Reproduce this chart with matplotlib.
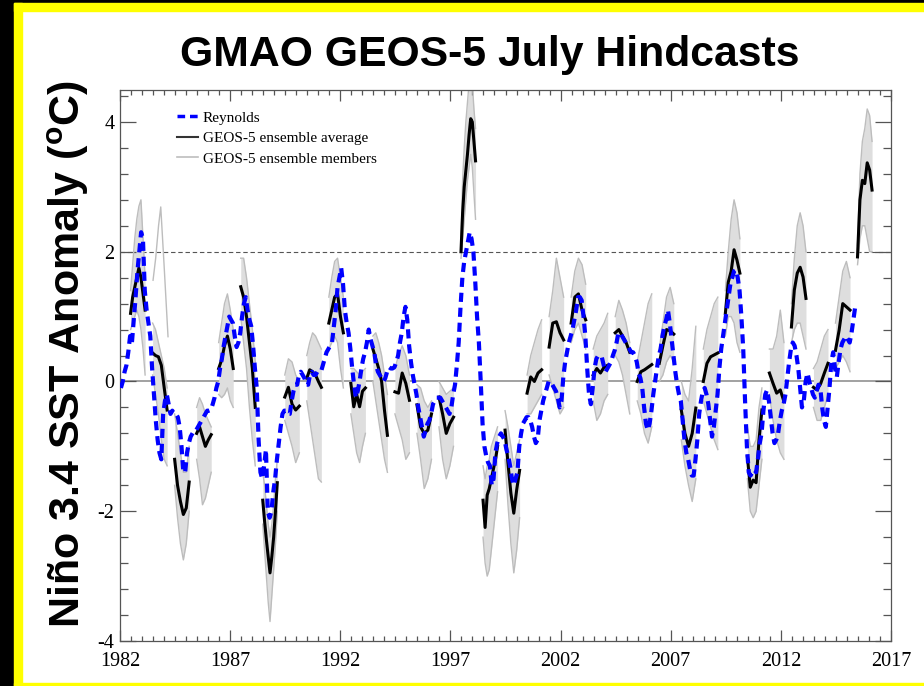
import numpy as np
import matplotlib.pyplot as plt
from matplotlib.ticker import MultipleLocator
from matplotlib.patches import Rectangle

plt.rcParams['font.family'] = ['Liberation Serif', 'DejaVu Serif']
plt.rcParams['axes.unicode_minus'] = False
plt.rcParams['mathtext.fontset'] = 'custom'
plt.rcParams['mathtext.rm'] = 'Liberation Sans'
plt.rcParams['mathtext.bf'] = 'Liberation Sans:bold'

# Reynolds observed Nino 3.4 anomaly, monthly from Jan 1982
reynolds_anom = [
    -0.1, 0.0, 0.15, 0.25, 0.45, 0.7, 0.6, 0.95, 1.3, 1.7, 2.0, 2.3,        # 1982
    2.2, 1.4, 1.1, 0.9, 0.7, 0.2, -0.2, -0.6, -0.9, -1.1, -1.2, -0.5,       # 1983
    -0.3, -0.2, -0.35, -0.5, -0.45, -0.5, -0.5, -0.55, -0.7, -1.0, -1.4, -1.4,  # 1984
    -1.1, -0.95, -0.85, -0.8, -0.75, -0.75, -0.7, -0.65, -0.6, -0.55, -0.5, -0.45,  # 1985
    -0.45, -0.44, -0.35, -0.25, -0.1, 0.0, 0.2, 0.35, 0.55, 0.7, 0.85, 1.0,  # 1986
    0.95, 0.9, 0.7, 0.53, 0.6, 0.75, 1.0, 1.2, 1.3, 1.1, 0.95, 0.85,        # 1987
    0.55, 0.2, -0.1, -0.9, -1.4, -1.5, -1.3, -1.05, -2.0, -2.1, -2.0, -1.7,  # 1988
    -1.5, -1.2, -0.95, -0.7, -0.5, -0.45, -0.45, -0.5, -0.5, -0.3, -0.15, -0.05,  # 1989
    -0.05, 0.1, 0.15, 0.1, 0.05, -0.05, -0.05, 0.1, 0.15, 0.1, 0.1, 0.15,   # 1990
    0.15, 0.15, 0.25, 0.35, 0.45, 0.5, 0.55, 0.6, 0.85, 1.1, 1.45, 1.6,     # 1991
    1.75, 1.5, 1.1, 0.9, 0.75, 0.5, 0.2, -0.05, -0.25, -0.15, 0.0, 0.2,     # 1992
    0.35, 0.45, 0.6, 0.8, 0.65, 0.55, 0.45, 0.25, 0.15, 0.1, 0.05, 0.0,     # 1993
    0.05, 0.15, 0.22, 0.2, 0.2, 0.22, 0.3, 0.4, 0.6, 0.75, 1.0, 1.15,       # 1994
    0.95, 0.55, 0.3, 0.1, -0.05, -0.2, -0.4, -0.55, -0.7, -0.85, -0.75, -0.65,  # 1995
    -0.6, -0.5, -0.35, -0.3, -0.25, -0.25, -0.25, -0.3, -0.35, -0.4, -0.45, -0.5,  # 1996
    -0.4, -0.2, -0.05, 0.25, 0.6, 1.15, 1.6, 1.85, 2.0, 2.15, 2.3, 2.2,     # 1997
    2.0, 1.55, 1.0, 0.6, 0.0, -0.65, -1.0, -1.15, -1.25, -1.3, -1.6, -1.5,  # 1998
    -1.1, -0.95, -0.85, -0.8, -0.85, -0.9, -1.05, -1.15, -1.3, -1.5, -1.6, -1.5,  # 1999
    -1.4, -1.0, -0.8, -0.65, -0.6, -0.55, -0.55, -0.6, -0.7, -0.85, -0.95, -0.9,  # 2000
    -0.6, -0.45, -0.3, -0.2, -0.1, 0.0, 0.0, -0.05, -0.1, -0.15, -0.25, -0.4,  # 2001
    -0.3, 0.07, 0.3, 0.45, 0.6, 0.7, 0.8, 0.95, 1.1, 1.3, 1.3, 1.25,        # 2002
    1.0, 0.7, 0.2, -0.2, -0.35, -0.1, 0.2, 0.35, 0.4, 0.4, 0.37, 0.25,      # 2003
    0.15, 0.2, 0.25, 0.3, 0.4, 0.48, 0.6, 0.75, 0.75, 0.7, 0.65, 0.6,       # 2004
    0.55, 0.5, 0.45, 0.45, 0.4, 0.3, 0.13, 0.05, -0.1, -0.4, -0.65, -0.75,  # 2005
    -0.65, -0.45, -0.2, 0.0, 0.2, 0.4, 0.5, 0.7, 0.85, 0.95, 1.1, 0.9,      # 2006
    0.65, 0.4, 0.15, -0.05, -0.2, -0.3, -0.6, -0.9, -1.1, -1.2, -1.35, -1.45,  # 2007
    -1.45, -1.2, -0.9, -0.5, -0.3, -0.15, -0.1, -0.2, -0.35, -0.6, -0.85, -0.7,  # 2008
    -0.45, -0.2, 0.2, 0.5, 0.7, 0.9, 1.1, 1.3, 1.5, 1.6, 1.7, 1.72,         # 2009
    1.6, 1.4, 1.0, 0.5, -0.3, -1.0, -1.4, -1.45, -1.4, -1.36, -1.4, -1.2,   # 2010
    -0.95, -0.8, -0.45, -0.2, -0.13, -0.3, -0.55, -0.8, -0.95, -0.9, -0.8, -0.6,  # 2011
    -0.45, -0.35, -0.2, 0.05, 0.3, 0.5, 0.6, 0.55, 0.4, 0.2, -0.1, -0.4,    # 2012
    -0.3, 0.0, 0.13, 0.0, -0.1, -0.2, -0.25, -0.15, -0.05, -0.1, -0.4, -0.6,  # 2013
    -0.7, -0.4, -0.1, 0.3, 0.45, 0.2, 0.07, 0.3, 0.5, 0.6, 0.65, 0.7,       # 2014
    0.65, 0.6, 0.75, 0.95, 1.15,                                            # 2015
]

# July hindcasts: start year, ensemble average, upper / lower member envelope
fc_years = list(range(1982, 2016))
fc_mean = [
    [1.05, 1.3, 1.45, 1.6, 1.75, 1.6, 1.35, 1.1],
    [0.44, 0.4, 0.38, 0.25, -0.1, -0.44],
    [-1.2, -1.6, -1.85, -2.05, -1.95, -1.55],
    [-0.8, -0.7, -0.85, -1.0, -0.9, -0.82],
    [0.2, 0.33, 0.55, 0.7, 0.5, 0.2],
    [1.46, 1.3, 1.0, 0.6, 0.2, -0.4],
    [-1.83, -2.15, -2.44, -2.7, -2.95, -2.7, -2.4, -2.0, -1.56],
    [-0.24, -0.09, -0.35, -0.44, -0.38],
    [0.05, 0.18, 0.15, 0.1, 0.0, -0.09],
    [0.9, 1.1, 1.3, 1.35, 1.0, 0.75],
    [-0.03, -0.39, -0.2, -0.39, -0.15, -0.1],
    [0.5, 0.35, 0.2, 0.0, -0.45, -0.83],
    [-0.16, -0.18, 0.13, -0.03, -0.29],
    [-0.36, -0.7, -0.8, -0.75, -0.5],
    [-0.24, -0.5, -0.8, -0.65, -0.55],
    [2.0, 2.6, 3.0, 3.25, 3.5, 3.8, 4.05, 4.0, 3.7, 3.4],
    [-1.83, -2.25, -1.75, -1.65, -1.5, -1.35, -1.2, -1.0],
    [-0.75, -1.26, -1.72, -2.03, -1.67, -1.37],
    [-0.18, 0.07, 0.0, 0.13, 0.18],
    [0.53, 0.9, 0.92, 0.75, 0.64],
    [0.9, 1.3, 1.35, 1.1, 0.95],
    [0.1, 0.2, 0.13, 0.22, 0.25],
    [0.75, 0.8, 0.7, 0.6, 0.45],
    [0.0, 0.15, 0.18, 0.22, 0.26],
    [0.28, 0.55, 0.8, 0.78, 0.73],
    [-0.44, -0.8, -1.0, -0.8, -0.41],
    [0.0, 0.28, 0.38, 0.41, 0.44],
    [1.05, 1.53, 1.7, 2.03, 1.87, 1.67],
    [-1.16, -1.63, -1.52, -1.56, -0.9, -0.44],
    [0.13, -0.03, -0.18, -0.13, -0.31],
    [0.84, 1.41, 1.67, 1.76, 1.61, 1.28],
    [-0.09, -0.13, -0.03, 0.13, 0.28],
    [0.48, 0.79, 1.2, 1.15, 1.1],
    [1.92, 2.8, 3.1, 3.05, 3.37, 3.26, 2.95],
]
fc_hi = [
    [1.4, 1.8, 2.2, 2.5, 2.7, 2.8, 2.2, 1.6],
    [0.9, 0.8, 0.6, 0.4, 0.2, -0.1],
    [-0.5, -0.8, -1.1, -1.4, -1.4, -1.0],
    [-0.4, -0.25, -0.35, -0.5, -0.6, -0.7],
    [0.6, 0.9, 1.2, 1.35, 1.1, 0.8],
    [1.9, 1.9, 1.6, 1.2, 0.8, 0.3],
    [-1.4, -1.6, -1.9, -2.2, -2.4, -2.2, -1.9, -1.5, -1.2],
    [0.1, 0.35, 0.3, 0.1, 0.0],
    [0.4, 0.6, 0.75, 0.7, 0.6, 0.5],
    [1.3, 1.6, 1.85, 1.9, 1.6, 1.3],
    [0.2, 0.2, 0.15, 0.1, 0.15, 0.2],
    [0.7, 0.75, 0.6, 0.4, 0.1, -0.2],
    [0.2, 0.4, 0.55, 0.4, 0.1],
    [-0.05, -0.1, -0.3, -0.4, -0.3],
    [0.0, -0.1, -0.2, -0.15, -0.1],
    [2.1, 3.1, 3.6, 4.0, 4.3, 4.6, 4.7, 4.6, 4.2, 3.9],
    [-1.3, -1.5, -1.3, -1.2, -1.0, -0.9, -0.8, -0.7],
    [-0.45, -0.7, -1.0, -1.3, -1.1, -0.9],
    [0.1, 0.4, 0.6, 0.8, 0.95],
    [1.0, 1.4, 1.9, 1.6, 1.3],
    [1.3, 1.7, 1.9, 1.8, 1.5],
    [0.5, 0.7, 0.8, 0.9, 1.05],
    [1.0, 1.25, 1.1, 0.9, 0.6],
    [0.3, 0.6, 0.9, 1.2, 1.35],
    [0.5, 0.9, 1.3, 1.45, 1.2],
    [0.0, -0.2, -0.3, 0.2, 0.85],
    [0.5, 0.8, 1.0, 1.2, 1.3],
    [1.4, 2.0, 2.5, 2.8, 2.6, 2.2],
    [-0.7, -1.0, -1.0, -0.9, -0.4, -0.1],
    [0.5, 0.5, 0.7, 1.1, 0.6],
    [1.2, 1.9, 2.4, 2.6, 2.4, 2.0],
    [0.2, 0.3, 0.5, 0.7, 0.8],
    [0.9, 1.3, 1.7, 1.85, 1.6],
    [2.1, 3.2, 3.7, 3.9, 4.2, 4.1, 3.7],
]
fc_lo = [
    [0.8, 0.9, 1.0, 1.1, 1.0, 0.8, 0.5, 0.1],
    [0.1, -0.2, -0.5, -0.9, -1.2, -1.3],
    [-1.6, -2.1, -2.5, -2.75, -2.5, -2.0],
    [-1.2, -1.5, -1.9, -1.8, -1.6, -1.4],
    [-0.2, -0.25, -0.2, -0.1, -0.3, -0.4],
    [1.0, 0.6, 0.2, -0.4, -0.9, -1.3],
    [-2.2, -2.6, -3.0, -3.4, -3.7, -3.3, -2.9, -2.5, -2.0],
    [-0.6, -0.8, -1.0, -1.25, -1.1],
    [-0.3, -0.6, -0.9, -1.2, -1.5, -1.55],
    [0.5, 0.6, 0.7, 0.6, 0.2, -0.1],
    [-0.5, -0.8, -1.1, -1.25, -1.0, -0.8],
    [0.0, -0.3, -0.6, -0.9, -1.2, -1.4],
    [-0.5, -0.7, -0.9, -1.2, -1.1],
    [-0.8, -1.2, -1.65, -1.5, -1.2],
    [-0.7, -1.2, -1.5, -1.3, -1.0],
    [1.9, 2.2, 2.5, 2.8, 3.1, 3.3, 3.5, 3.3, 2.9, 2.5],
    [-2.4, -2.8, -3.0, -2.9, -2.6, -2.3, -2.0, -1.7],
    [-1.2, -1.9, -2.5, -2.95, -2.6, -2.1],
    [-0.5, -0.5, -0.4, -0.3, -0.2],
    [0.1, -0.1, -0.3, -0.5, -0.4],
    [0.6, 0.8, 0.9, 0.7, 0.5],
    [-0.3, -0.6, -0.5, -0.3, -0.2],
    [0.4, 0.3, 0.1, -0.2, -0.5],
    [-0.3, -0.5, -0.8, -0.95, -0.7],
    [0.0, 0.1, 0.3, 0.4, 0.3],
    [-0.9, -1.3, -1.6, -1.85, -1.5],
    [-0.3, -0.5, -0.7, -0.9, -1.05],
    [0.7, 1.0, 1.0, 0.9, 0.6, 0.45],
    [-1.5, -2.0, -2.1, -2.0, -1.6, -1.2],
    [-0.2, -0.6, -0.9, -1.1, -1.2],
    [0.6, 0.8, 0.9, 0.9, 0.7, 0.5],
    [-0.4, -0.6, -0.6, -0.4, -0.2],
    [0.2, 0.3, 0.4, 0.3, 0.15],
    [1.8, 2.2, 2.4, 2.4, 2.2, 2.0, 2.0],
]
# one stray member seen after the 1982/83 peak
stray_t = [1983.5, 1983.62, 1983.75, 1983.85, 1984.0, 1984.18]
stray_v = [1.56, 1.9, 2.4, 2.69, 1.8, 0.69]

xticks = [1982, 1987, 1992, 1997, 2002, 2007, 2012, 2017]
yticks = [-4, -2, 0, 2, 4]

W, H = 924, 686
fig = plt.figure(figsize=(W / 100, H / 100), dpi=100, facecolor='white')

# frame round the picture
fig.patches.append(Rectangle((0, 0), 14 / W, 1, transform=fig.transFigure, color='black', zorder=-5))
fig.patches.append(Rectangle((0, 1 - 3 / H), 1, 3 / H, transform=fig.transFigure, color='black', zorder=-5))
fig.patches.append(Rectangle((14 / W, 0), 8 / W, 1 - 3 / H, transform=fig.transFigure, color='#ffff00', zorder=-4))
fig.patches.append(Rectangle((14 / W, 1 - 11 / H), 1, 8 / H, transform=fig.transFigure, color='#ffff00', zorder=-4))
fig.patches.append(Rectangle((14 / W, 0), 1, 3 / H, transform=fig.transFigure, color='#ffff00', zorder=-4))

ax = fig.add_axes([120 / W, 1 - 641 / H, 771 / W, 551.5 / H])

for yr, m, hi, lo in zip(fc_years, fc_mean, fc_hi, fc_lo):
    t = np.linspace(yr + 0.48, yr + 1.14, len(m))
    ax.fill_between(t, lo, hi, color='#dedede', lw=0, zorder=1)
    ax.plot(t, hi, color='#bdbdbd', lw=1, zorder=2)
    ax.plot(t, lo, color='#bdbdbd', lw=1, zorder=2)
    ax.plot(t, m, color='black', lw=2.2, zorder=4)
ax.plot(stray_t, stray_v, color='#bdbdbd', lw=1, zorder=2)

t_obs = 1982 + (np.arange(len(reynolds_anom)) + 0.5) / 12
ax.plot(t_obs, reynolds_anom, color='#0000ff', lw=3, ls=(0, (2.2, 1.4)), zorder=5)

ax.axhline(0, color='#9a9a9a', lw=1.3, zorder=0)
ax.axhline(2, color='#555555', lw=0.8, ls=(0, (4, 2.5)), zorder=0)

# legend handles
ax.plot([], [], color='#0000ff', lw=2.5, ls=(0, (2.2, 1.4)), label='Reynolds')
ax.plot([], [], color='#333333', lw=1.5, label='GEOS-5 ensemble average')
ax.plot([], [], color='#bdbdbd', lw=1.2, label='GEOS-5 ensemble members')
h, l = ax.get_legend_handles_labels()
ax.legend(h[-3:], l[-3:], loc='upper left', bbox_to_anchor=(177 / W, 1 - 111 / H),
          bbox_transform=fig.transFigure, frameon=False, fontsize=11,
          handlelength=1.37, handletextpad=0.3, labelspacing=0.45,
          borderpad=0, borderaxespad=0)

ax.set_xlim(1982, 2017)
ax.set_ylim(-4, 4.5)
ax.set_xticks(xticks)
ax.set_yticks(yticks)
ax.xaxis.set_minor_locator(MultipleLocator(0.5))
ax.yaxis.set_minor_locator(MultipleLocator(0.4))
ax.tick_params(which='both', direction='in', top=True, right=True,
               color='#555555', width=0.9, labelsize=14.5)
ax.xaxis.set_tick_params(which='major', length=8, pad=8)
ax.xaxis.set_tick_params(which='minor', length=3.6)
ax.yaxis.set_tick_params(which='major', length=11.5, pad=4)
ax.yaxis.set_tick_params(which='minor', length=5.8)
for s in ax.spines.values():
    s.set_color('#555555')
    s.set_linewidth(0.9)

fig.text(490 / W, 1 - 55 / H, 'GMAO GEOS-5 July Hindcasts', ha='center', va='center',
         fontsize=30.8, fontweight='bold', family=['Liberation Sans', 'DejaVu Sans'])
fig.text(68 / W, 1 - 354 / H, r'Niño 3.4 SST Anomaly ($\mathbf{^o}$C)', ha='center', va='center',
         rotation=90, fontsize=31, fontweight='bold', family=['Liberation Sans', 'DejaVu Sans'])

fig.savefig('out.png', dpi=100, facecolor='white')
